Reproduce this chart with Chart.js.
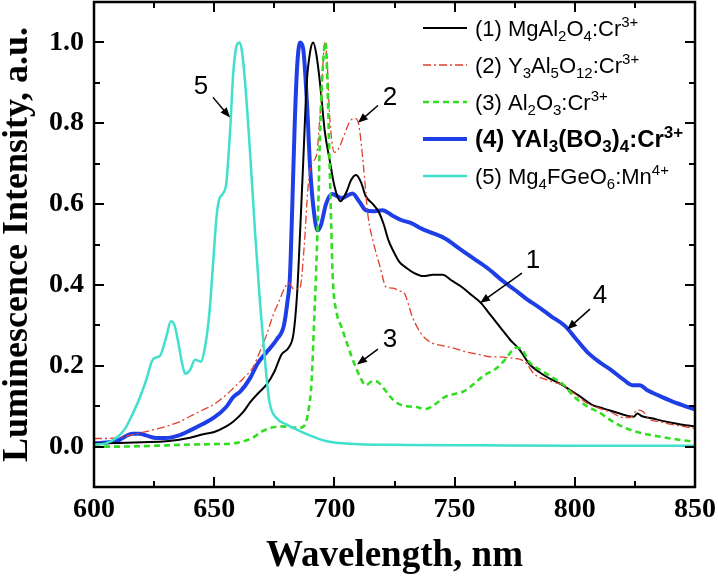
<!DOCTYPE html>
<html><head><meta charset="utf-8">
<script src="https://cdn.jsdelivr.net/npm/chart.js@4"></script>
<style>html,body{margin:0;padding:0;background:#fff}canvas{display:block}</style>
</head><body>
<canvas id="c" width="718" height="579"></canvas>
<script>
// ---- data (wavelength nm, normalized intensity) ----
const mgal2o4 = [[600,0.008],[610,0.009],[620,0.011],[630,0.013],[640,0.022],[645,0.03],[650,0.036],[655,0.05],[658,0.062],[662,0.085],[665,0.11],[668,0.13],[672,0.155],[675,0.185],[678,0.228],[681,0.245],[683,0.28],[684.5,0.38],[685.5,0.5],[687,0.7],[688.5,0.9],[690,0.98],[691.2,1.0],[692.5,0.97],[694,0.9],[696,0.78],[698,0.71],[700,0.645],[702.5,0.607],[705,0.63],[707,0.66],[709,0.672],[711,0.655],[713,0.62],[716,0.6],[718.5,0.58],[720.5,0.55],[722.5,0.51],[724.5,0.484],[727,0.457],[730,0.442],[733,0.43],[737,0.422],[741,0.425],[745,0.425],[749,0.41],[753,0.395],[757,0.375],[761,0.355],[765,0.325],[769,0.295],[773,0.265],[777,0.24],[781,0.205],[785,0.185],[789,0.17],[794,0.155],[798,0.14],[802,0.125],[807,0.104],[812,0.094],[817,0.085],[822,0.076],[824.5,0.074],[826,0.082],[828,0.075],[832,0.07],[837,0.063],[842,0.057],[846,0.053],[850,0.05]];
const yag = [[600,0.02],[605,0.02],[610,0.022],[615,0.028],[620,0.035],[625,0.042],[630,0.05],[635,0.06],[640,0.075],[645,0.09],[650,0.105],[655,0.128],[658,0.145],[662,0.168],[666,0.195],[669,0.235],[672,0.28],[674.5,0.325],[677,0.36],[679.5,0.395],[681,0.405],[683,0.39],[685.5,0.39],[687.5,0.5],[689,0.64],[690.5,0.7],[692.5,0.72],[694.5,0.86],[696,1.0],[697,0.95],[698,0.82],[700,0.728],[702,0.74],[704,0.77],[706.5,0.805],[708.5,0.812],[710,0.8],[712,0.7],[714,0.57],[716,0.51],[719,0.445],[721.5,0.395],[724.5,0.392],[727,0.385],[729,0.38],[732.5,0.32],[736,0.28],[740,0.258],[745,0.25],[750,0.243],[755,0.234],[760,0.228],[765,0.222],[769,0.222],[772,0.22],[775,0.218],[778,0.214],[780,0.205],[783,0.18],[787,0.168],[791,0.16],[795,0.152],[800,0.13],[805,0.108],[810,0.095],[815,0.085],[820,0.072],[823,0.072],[826,0.09],[828,0.088],[831,0.068],[835,0.062],[840,0.055],[845,0.05],[850,0.045]];
const al2o3 = [[600,0.0],[610,0.0],[620,0.001],[630,0.003],[640,0.005],[650,0.006],[658,0.008],[662,0.013],[666,0.022],[670,0.038],[674,0.047],[678,0.05],[682,0.048],[686,0.047],[688,0.058],[689.5,0.1],[690.5,0.16],[691.5,0.3],[692.5,0.45],[693.3,0.6],[694,0.77],[695.3,0.95],[696.3,1.0],[697.2,0.88],[698,0.7],[698.7,0.54],[699.3,0.42],[701,0.33],[703,0.295],[705,0.26],[707,0.225],[709,0.195],[711,0.168],[713,0.152],[716,0.162],[718,0.16],[720,0.148],[723,0.125],[726,0.108],[730,0.1],[734,0.098],[738,0.093],[742,0.105],[746,0.123],[750,0.13],[754,0.137],[758,0.155],[762,0.175],[767,0.192],[771,0.215],[774,0.238],[776,0.245],[778.5,0.236],[781,0.21],[784,0.195],[787,0.185],[791,0.17],[795,0.155],[800,0.122],[805,0.1],[810,0.085],[815,0.065],[821,0.046],[828,0.033],[835,0.025],[842,0.018],[850,0.012]];
const yab = [[600,0.008],[605,0.01],[610,0.015],[613,0.025],[616,0.032],[619,0.032],[622,0.027],[626,0.021],[630,0.021],[635,0.027],[640,0.04],[645,0.055],[650,0.072],[655,0.098],[658,0.123],[661,0.137],[665,0.17],[668,0.205],[672,0.235],[676,0.265],[679,0.3],[680.5,0.36],[681.5,0.42],[682.5,0.6],[683.5,0.8],[684.5,0.94],[685.7,1.0],[687,0.985],[688.5,0.86],[690,0.68],[691.5,0.58],[693,0.535],[694.5,0.55],[696.5,0.6],[699,0.625],[703,0.615],[707.5,0.626],[710.5,0.605],[713,0.585],[716,0.582],[720,0.585],[724,0.572],[728,0.56],[732,0.553],[736,0.54],[740,0.53],[746,0.515],[752,0.49],[758,0.465],[764,0.44],[770,0.41],[775,0.388],[780,0.365],[785,0.345],[790,0.323],[796,0.298],[800,0.27],[805,0.235],[810,0.21],[815,0.19],[820,0.167],[824,0.152],[827,0.152],[830,0.14],[835,0.126],[840,0.113],[845,0.102],[850,0.092]];
const mgfgeo = [[600,0.005],[605,0.008],[610,0.025],[613,0.045],[616,0.08],[619,0.12],[622,0.17],[624,0.21],[625.5,0.22],[627.5,0.225],[630,0.27],[632,0.31],[633.5,0.3],[635,0.26],[636.5,0.21],[638,0.18],[640,0.19],[642,0.215],[644.5,0.21],[646,0.24],[648,0.33],[649.5,0.45],[651,0.57],[652,0.61],[653.5,0.625],[655,0.65],[656.5,0.77],[658,0.93],[659.5,0.995],[660.5,1.0],[661.5,0.98],[663,0.89],[665,0.72],[667,0.53],[669,0.36],[671,0.22],[673,0.11],[676,0.07],[680,0.055],[685,0.04],[690,0.027],[695,0.016],[700,0.01],[710,0.006],[730,0.004],[760,0.003],[800,0.002],[850,0.002]];

const xTickValues = [600, 650, 700, 750, 800, 850];
const yTickValues = [0.0, 0.2, 0.4, 0.6, 0.8, 1.0];

// legend labels as rich-text segments [text, kind]
const legendLabels = [
  [['(1) MgAl',''],['2','sub'],['O',''],['4','sub'],[':Cr',''],['3+','sup']],
  [['(2) Y',''],['3','sub'],['Al',''],['5','sub'],['O',''],['12','sub'],[':Cr',''],['3+','sup']],
  [['(3) Al',''],['2','sub'],['O',''],['3','sub'],[':Cr',''],['3+','sup']],
  [['(4) YAl',''],['3','sub'],['(BO',''],['3','sub'],[')',''],['4','sub'],[':Cr',''],['3+','sup']],
  [['(5) Mg',''],['4','sub'],['FGeO',''],['6','sub'],[':Mn',''],['4+','sup']]
];
const legendBold = [false,false,false,true,false];

// curve number callouts (in data coordinates): label, label pos, arrow start, arrow tip
const callouts = [
  {t:'5', at:[644.5,0.89], from:[649.5,0.864], to:[656.6,0.814]},
  {t:'2', at:[723.1,0.864], from:[718.1,0.844], to:[709.8,0.801]},
  {t:'3', at:[723.1,0.263], from:[718.1,0.241], to:[709.4,0.203]},
  {t:'1', at:[782.6,0.459], from:[778.0,0.429], to:[760.6,0.355]},
  {t:'4', at:[810.5,0.372], from:[806.3,0.340], to:[796.8,0.290]}
];

const toPts = a => a.map(p => ({x:p[0], y:p[1]}));

const datasets = [
  {data:toPts(mgfgeo), borderColor:'#40e0cc', borderWidth:2.5},
  {data:toPts(al2o3), borderColor:'#33dd22', borderWidth:2.6, borderDash:[6,4]},
  {data:toPts(yag), borderColor:'#e0402e', borderWidth:1.3, borderDash:[8,3,2,3]},
  {data:toPts(mgal2o4), borderColor:'#000000', borderWidth:2},
  {data:toPts(yab), borderColor:'#1f3fe6', borderWidth:4}
].map(d => Object.assign({pointRadius:0, fill:false, cubicInterpolationMode:'monotone'}, d));

// legend order -> dataset index
const legendOrder = [3,2,1,4,0];

const serif = '"Liberation Serif", "Times New Roman", serif';
const sans = '"Liberation Sans", Arial, sans-serif';

const decor = {
  id:'decor',
  afterDraw(chart){
    const ctx = chart.ctx, a = chart.chartArea;
    const xs = chart.scales.x, ys = chart.scales.y;
    ctx.save();
    ctx.strokeStyle = '#000';
    ctx.lineCap = 'butt';
    ctx.lineWidth = 2;
    const majL = 10, minL = 6;
    for (let v = 600; v <= 850; v += 25) {
      const px = Math.round(xs.getPixelForValue(v));
      const L = (v % 50 === 0) ? majL : minL;
      ctx.beginPath();
      ctx.moveTo(px, a.bottom); ctx.lineTo(px, a.bottom - L);
      ctx.moveTo(px, a.top); ctx.lineTo(px, a.top + L);
      ctx.stroke();
    }
    for (let i = 0; i <= 10; i++) {
      const v = i / 10;
      const py = Math.round(ys.getPixelForValue(v));
      const L = (i % 2 === 0) ? majL : minL;
      ctx.beginPath();
      ctx.moveTo(a.left, py); ctx.lineTo(a.left + L, py);
      ctx.moveTo(a.right, py); ctx.lineTo(a.right - L, py);
      ctx.stroke();
    }
    ctx.lineWidth = 2.5;
    ctx.strokeRect(a.left, a.top, a.right - a.left, a.bottom - a.top);

    // legend
    const lx0 = a.left + 329, lx1 = a.left + 373, tx = a.left + 381;
    const rowY0 = a.top + 26, rowStep = 37;
    legendOrder.forEach((di, r) => {
      const ds = chart.data.datasets[di];
      const y = rowY0 + r * rowStep;
      ctx.save();
      ctx.strokeStyle = ds.borderColor;
      ctx.lineWidth = ds.borderWidth;
      ctx.setLineDash(ds.borderDash || []);
      ctx.beginPath(); ctx.moveTo(lx0, y); ctx.lineTo(lx1, y); ctx.stroke();
      ctx.restore();
      const bold = legendBold[r];
      const w = bold ? 'bold ' : '';
      const mainSz = bold ? 24 : 22, smallSz = bold ? 17 : 15;
      let x = tx;
      const base = y + 8;
      ctx.fillStyle = '#000';
      ctx.textBaseline = 'alphabetic';
      ctx.textAlign = 'left';
      legendLabels[r].forEach(([s, k]) => {
        if (k === '') { ctx.font = w + mainSz + 'px ' + sans; ctx.fillText(s, x, base); }
        else if (k === 'sub') { ctx.font = w + smallSz + 'px ' + sans; ctx.fillText(s, x, base + 5); }
        else { ctx.font = w + smallSz + 'px ' + sans; ctx.fillText(s, x, base - 9); }
        x += ctx.measureText(s).width;
      });
    });

    // callouts
    ctx.fillStyle = '#000';
    ctx.strokeStyle = '#000';
    ctx.font = '26px ' + sans;
    ctx.textAlign = 'center';
    ctx.textBaseline = 'middle';
    callouts.forEach(c => {
      ctx.fillText(c.t, xs.getPixelForValue(c.at[0]), ys.getPixelForValue(c.at[1]));
      const x0 = xs.getPixelForValue(c.from[0]), y0 = ys.getPixelForValue(c.from[1]);
      const x1 = xs.getPixelForValue(c.to[0]), y1 = ys.getPixelForValue(c.to[1]);
      const ang = Math.atan2(y1 - y0, x1 - x0);
      const hl = 10, hw = 4;
      ctx.lineWidth = 1.5;
      ctx.beginPath(); ctx.moveTo(x0, y0);
      ctx.lineTo(x1 - Math.cos(ang) * hl * 0.8, y1 - Math.sin(ang) * hl * 0.8); ctx.stroke();
      ctx.beginPath();
      ctx.moveTo(x1, y1);
      ctx.lineTo(x1 - Math.cos(ang) * hl - Math.sin(ang) * hw, y1 - Math.sin(ang) * hl + Math.cos(ang) * hw);
      ctx.lineTo(x1 - Math.cos(ang) * hl + Math.sin(ang) * hw, y1 - Math.sin(ang) * hl - Math.cos(ang) * hw);
      ctx.closePath(); ctx.fill();
    });
    ctx.restore();
  }
};

new Chart(document.getElementById('c'), {
  type:'line',
  data:{datasets},
  options:{
    responsive:false,
    animation:false,
    devicePixelRatio:1,
    layout:{padding:{left:0, top:2, right:23, bottom:0}},
    plugins:{legend:{display:false}, tooltip:{enabled:false}},
    scales:{
      x:{
        type:'linear', min:600, max:850,
        afterBuildTicks: s => { s.ticks = xTickValues.map(v => ({value:v})); },
        grid:{display:false, drawTicks:false},
        border:{display:false},
        ticks:{font:{family:serif, size:28, weight:'bold'}, color:'#000', padding:6, maxRotation:0, autoSkip:false},
        title:{display:true, text:'Wavelength, nm', font:{family:serif, size:37, weight:'bold', lineHeight:1.2}, color:'#000', padding:0},
        afterFit: s => { s.height = 92; s.paddingLeft = 0; s.paddingRight = 0; }
      },
      y:{
        type:'linear', min:-0.1, max:1.1,
        afterBuildTicks: s => { s.ticks = yTickValues.map(v => ({value:v})); },
        grid:{display:false, drawTicks:false},
        border:{display:false},
        ticks:{font:{family:serif, size:28, weight:'bold'}, color:'#000', padding:10, autoSkip:false,
               callback: v => Number(v).toFixed(1)},
        title:{display:true, text:'Luminescence Intensity, a.u.', font:{family:serif, size:36, weight:'bold', lineHeight:1.0}, color:'#000', padding:0},
        afterFit: s => { s.width = 94; s.paddingTop = 0; s.paddingBottom = 0; }
      }
    }
  },
  plugins:[decor]
});
</script>
</body></html>
